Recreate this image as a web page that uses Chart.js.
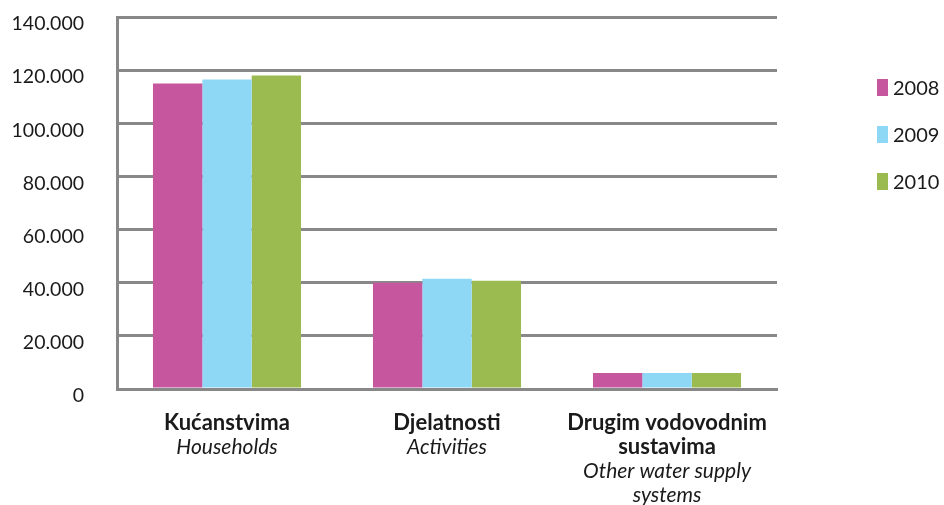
<!DOCTYPE html>
<html>
<head>
<meta charset="utf-8">
<script src="https://cdn.jsdelivr.net/npm/chart.js@4/dist/chart.umd.min.js"></script>
<style>
  html, body { margin: 0; padding: 0; background: #fff; }
  #wrap { position: relative; width: 944px; height: 505px; }
  #legend { position: absolute; left: 877px; top: 0; font-family: Lato, sans-serif; font-size: 20px; color: #1a1a1a; }
  .item { position: absolute; left: 0; white-space: nowrap; height: 20px; line-height: 20px; }
  .box { position: absolute; left: 0; top: 1px; width: 11px; height: 17px; }
  .txt { position: absolute; left: 16px; top: -1px; }
</style>
</head>
<body>
<div id="wrap">
  <canvas id="c" width="944" height="505"></canvas>
  <div id="legend"></div>
</div>
<script>
const categoriesHr = [["Kućanstvima"], ["Djelatnosti"], ["Drugim vodovodnim", "sustavima"]];
const categoriesEn = [["Households"], ["Activities"], ["Other water supply", "systems"]];
const seriesLabels = ["2008", "2009", "2010"];
const values2008 = [115000, 40000, 6000];
const values2009 = [116500, 41500, 6000];
const values2010 = [118000, 40700, 6000];
const seriesColors = ["#C6579E", "#8FD8F5", "#9BBB50"];
const yTicks = [0, 20000, 40000, 60000, 80000, 100000, 120000, 140000];

const seriesValues = [values2008, values2009, values2010];

const xLabelsPlugin = {
  id: 'xLabels',
  afterDraw(chart) {
    const ctx = chart.ctx;
    const xs = chart.scales.x;
    ctx.save();
    ctx.fillStyle = '#1a1a1a';
    ctx.textAlign = 'center';
    ctx.textBaseline = 'middle';
    categoriesHr.forEach((hr, i) => {
      const x = xs.getPixelForValue(i);
      let y = 423;
      ctx.font = 'bold 22px Lato, sans-serif';
      hr.forEach(line => { ctx.fillText(line, x, y); y += 24; });
      ctx.font = 'italic 21px Lato, sans-serif';
      categoriesEn[i].forEach(line => { ctx.fillText(line, x, y); y += 24; });
    });
    ctx.restore();
  }
};

const chart = new Chart(document.getElementById('c'), {
  type: 'bar',
  data: {
    labels: categoriesHr.map(a => a.join(' ')),
    datasets: seriesLabels.map((lab, i) => ({
      label: lab,
      data: seriesValues[i],
      backgroundColor: seriesColors[i],
      borderWidth: 0,
      categoryPercentage: 0.673,
      barPercentage: 1.0
    }))
  },
  options: {
    responsive: false,
    animation: false,
    layout: { padding: { top: 17, right: 167, left: 0, bottom: 0 } },
    plugins: { legend: { display: false }, tooltip: { enabled: false } },
    scales: {
      x: {
        grid: { display: false },
        border: { display: true, color: '#888888', width: 3 },
        ticks: { display: false },
        afterFit(scale) { scale.height = 116; scale.paddingLeft = 0; scale.paddingRight = 0; }
      },
      y: {
        min: 0, max: 140000,
        afterBuildTicks(scale) { scale.ticks = yTicks.map(v => ({ value: v })); },
        grid: { color: '#888888', lineWidth: 3, drawTicks: false },
        border: { display: true, color: '#888888', width: 3 },
        ticks: {
          padding: 33,
          labelOffset: 7,
          color: '#1a1a1a',
          font: { family: 'Lato, sans-serif', size: 19.5 },
          callback: v => v === 0 ? '0' : v.toLocaleString('de-DE')
        },
        afterFit(scale) { scale.width = 117; scale.paddingTop = 0; scale.paddingBottom = 0; }
      }
    }
  },
  plugins: [xLabelsPlugin]
});

const legendTops = [88, 135, 182];
const legendEl = document.getElementById('legend');
seriesLabels.forEach((lab, i) => {
  const item = document.createElement('div');
  item.className = 'item';
  item.style.top = (legendTops[i] - 10) + 'px';
  item.innerHTML = '<span class="box" style="background:' + seriesColors[i] + '"></span><span class="txt">' + lab + '</span>';
  legendEl.appendChild(item);
});
</script>
</body>
</html>
